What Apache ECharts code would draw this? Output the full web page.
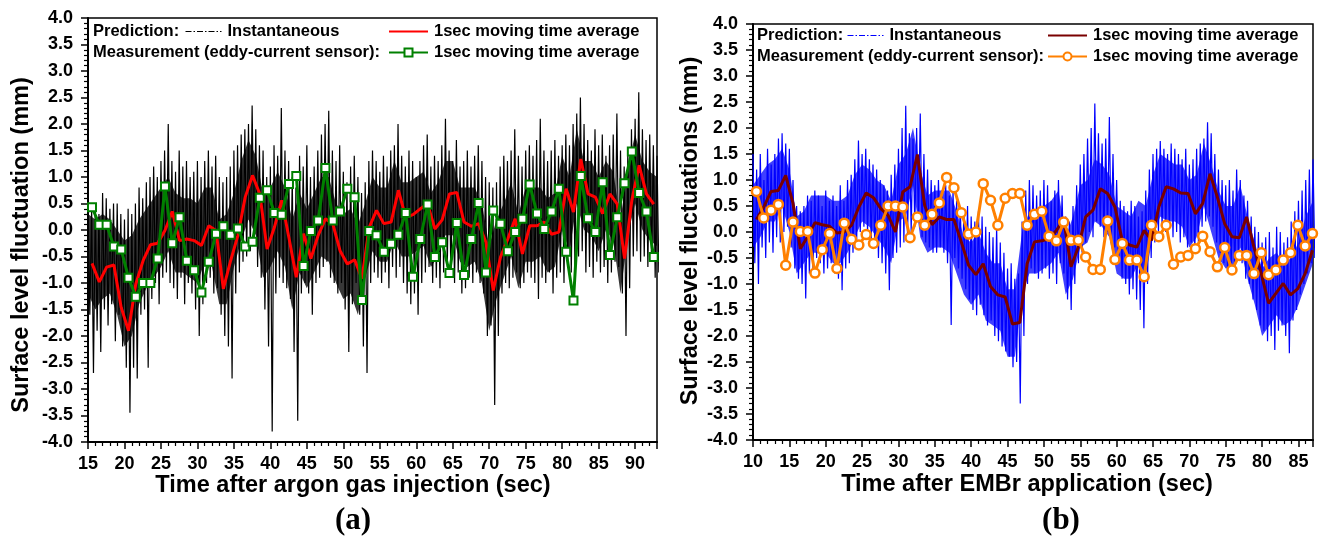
<!DOCTYPE html>
<html>
<head>
<meta charset="utf-8">
<script src="https://cdn.jsdelivr.net/npm/echarts@6/dist/echarts.min.js"></script>
<style>
html,body{margin:0;padding:0;background:#fff;}
#c{width:1324px;height:537px;}
</style>
</head>
<body>
<div id="c"></div>
<script>
// ---------- DATA ----------
// Panel (a): instantaneous prediction, spike excursions every 0.5 s from 15.0 s (upper / lower)
const aInstT0 = 15.0, aInstDt = 0.5;
const aInstHi = [
 0.6,0.4,0.5,0.3,0.7,0.6,0.4,0.5,0.5,0.3,
 0.2,0.4,0.3,0.5,0.8,0.6,0.9,1.0,1.2,1.0,
 1.3,1.5,2.0,1.3,1.1,1.5,1.2,1.3,1.0,1.1,
 1.3,1.0,1.3,1.5,1.2,1.4,1.0,0.9,1.0,1.2,
 1.5,1.6,1.8,1.9,2.0,2.35,1.9,1.6,1.5,1.0,
 1.2,1.6,1.4,2.3,1.5,1.3,1.0,0.8,1.4,1.2,
 1.6,1.0,1.2,1.5,1.8,2.0,2.25,1.5,1.3,1.6,
 1.1,0.9,1.2,1.4,1.0,0.7,0.9,1.3,1.5,1.3,
 1.1,1.4,1.2,1.5,1.6,2.0,1.4,1.2,1.5,1.3,
 1.0,1.3,1.6,1.8,1.2,1.4,1.3,1.6,2.1,1.5,
 1.3,1.7,1.2,1.3,1.5,1.2,1.4,1.6,1.3,1.0,
 0.9,0.8,0.9,1.2,1.4,1.3,1.5,1.9,1.4,1.2,
 1.5,1.6,1.4,1.7,2.1,1.5,1.3,1.5,1.7,1.4,
 1.6,1.8,1.6,2.0,2.2,2.5,2.0,1.7,1.5,1.9,
 1.6,1.8,1.4,1.6,1.8,2.2,1.5,1.2,1.5,1.9,
 2.1,2.6,1.9,1.7,1.8,1.6,1.4
];
const aInstLo = [
 -1.6,-2.7,-1.9,-2.3,-1.5,-1.8,-1.4,-2.1,-1.6,-2.2,
 -2.6,-3.45,-2.6,-2.8,-1.6,-1.5,-2.6,-1.3,-1.0,-1.4,
 -0.9,-0.8,-1.0,-1.1,-1.3,-0.9,-1.4,-1.0,-1.2,-1.5,
 -2.0,-1.4,-1.0,-0.9,-1.2,-1.1,-1.6,-2.0,-2.2,-2.8,
 -1.2,-0.8,-0.6,-0.5,-0.4,-0.3,-0.7,-0.9,-1.5,-2.2,
 -3.8,-1.2,-0.9,-1.0,-1.1,-1.3,-2.3,-3.6,-1.2,-1.0,
 -1.2,-1.6,-1.0,-0.9,-0.7,-0.6,-0.9,-1.0,-1.2,-1.0,
 -1.5,-2.3,-1.4,-1.0,-1.6,-2.2,-2.7,-1.0,-0.8,-0.9,
 -1.0,-0.8,-1.1,-0.7,-0.9,-0.7,-1.0,-1.2,-1.4,-1.2,
 -1.6,-1.0,-0.8,-0.7,-1.0,-0.9,-1.1,-0.8,-0.7,-0.9,
 -1.0,-0.8,-1.2,-1.1,-0.9,-1.0,-0.8,-1.0,-1.2,-2.0,
 -1.8,-3.3,-2.0,-1.2,-1.0,-1.1,-0.9,-0.8,-1.1,-1.0,
 -0.8,-0.9,-1.0,-1.3,-0.9,-1.0,-0.8,-1.2,-0.9,-0.8,
 -1.0,-0.6,-0.8,-0.7,-0.5,-0.4,-0.8,-0.7,-0.9,-0.6,
 -0.8,-0.7,-1.0,-0.8,-0.6,-0.7,-1.2,-2.0,-1.1,-0.5,
 -0.4,-0.6,-0.5,-0.7,-0.6,-0.9,-0.8
];
// Panel (a): dense core of the instantaneous trace, every 1 s from 15 s
const aCoreT0 = 15.0, aCoreDt = 1.0;
const aCoreHi = [
 0.3,0.2,0.3,0.2,0.0,-0.2,-0.1,0.2,0.4,0.6,
 0.8,1.0,0.7,0.6,0.6,0.5,0.8,0.8,0.2,0.3,
 0.7,1.3,1.7,1.4,0.7,0.8,1.1,0.8,0.2,0.7,
 0.4,0.7,1.0,1.0,0.5,0.3,0.4,0.1,0.5,1.0,
 0.8,0.8,1.3,0.9,0.9,1.0,1.1,0.7,0.9,1.3,
 1.3,0.8,0.8,0.8,0.5,-0.3,0.2,0.5,0.9,0.3,
 0.8,0.8,0.8,0.6,0.7,1.4,1.0,1.9,1.3,1.3,
 1.0,1.3,1.1,0.2,1.2,1.8,1.3,1.1,1.0
];
const aCoreLo = [
 -1.2,-1.5,-1.3,-1.2,-1.6,-2.2,-2.0,-1.4,-1.1,-0.9,
 -0.7,-0.4,-0.8,-0.8,-0.9,-1.0,-0.6,-0.7,-1.4,-1.4,
 -0.7,-0.2,0.2,-0.1,-0.9,-0.7,-0.4,-0.7,-1.5,-0.8,
 -1.1,-0.8,-0.5,-0.6,-1.0,-1.3,-1.2,-1.6,-0.9,-0.4,
 -0.6,-0.6,-0.2,-0.5,-0.5,-0.4,-0.3,-0.7,-0.5,-0.1,
 -0.1,-0.6,-0.7,-0.6,-1.0,-1.9,-1.3,-0.9,-0.5,-1.1,
 -0.6,-0.6,-0.5,-0.8,-0.7,0.0,-0.4,0.5,0.0,-0.1,
 -0.4,0.0,-0.2,-1.2,-0.1,0.5,0.0,-0.2,-0.3
];
// Panel (a): 1-sec moving averages, one value per second from 15.55 s
const aAvgT0 = 15.55, aAvgDt = 1.0;
const aPredAvg = [
 -0.63,-0.98,-0.70,-0.66,-1.46,-1.90,-1.02,-0.58,-0.28,-0.25,
 -0.01,0.35,-0.20,-0.17,-0.20,-0.29,0.08,-0.01,-1.11,-0.58,
 -0.10,0.62,1.03,0.68,-0.36,0.05,0.56,-0.15,-0.89,-0.07,
 -0.54,-0.10,0.21,0.12,-0.39,-0.64,-0.56,-0.92,0.05,0.37,
 0.12,0.15,0.75,0.24,0.29,0.40,0.49,0.02,0.19,0.68,
 0.71,0.15,0.07,0.12,-0.23,-1.14,-0.51,-0.17,0.21,-0.45,
 0.08,0.08,0.15,-0.08,-0.04,0.78,0.34,1.34,0.68,0.62,
 0.31,0.68,0.49,-0.54,0.56,1.22,0.68,0.49
];
const aMeasAvg = [
 0.43,0.10,0.10,-0.31,-0.37,-0.90,-1.26,-1.00,-1.00,-0.54,
 0.82,-0.25,0.24,-0.58,-0.76,-1.18,-0.60,-0.07,0.07,-0.09,
 0.03,-0.31,-0.22,0.61,0.75,0.32,0.29,0.87,1.02,-0.68,
 -0.02,0.18,1.17,0.18,0.35,0.78,0.62,-1.32,-0.02,-0.10,
 -0.41,-0.26,-0.09,0.32,-0.88,-0.17,0.48,-0.51,-0.23,-0.81,
 0.13,-0.85,-0.17,0.51,-0.80,0.37,0.12,-0.40,-0.04,0.21,
 0.86,0.31,0.02,0.35,0.78,-0.41,-1.33,1.02,0.22,-0.04,
 0.90,-0.47,0.24,0.88,1.48,0.70,0.35,-0.51
];

// Panel (b): instantaneous prediction spike excursions every 0.5 s from 10.0 s
const bInstT0 = 10.0, bInstDt = 0.5;
const bInstHi = [
 1.5,1.2,1.5,1.0,1.6,1.3,1.5,1.8,1.9,1.7,
 1.6,1.0,0.5,0.4,0.5,0.7,0.6,0.8,0.7,0.5,
 0.8,0.6,0.7,0.5,0.9,0.6,1.0,1.1,1.4,1.76,
 1.5,1.6,1.4,1.3,1.2,1.0,0.9,0.8,1.1,1.3,
 1.6,2.0,2.43,1.9,1.8,2.0,2.28,1.5,1.2,1.0,
 0.9,1.0,0.8,0.9,0.7,0.8,0.6,0.5,0.4,0.5,
 0.3,0.2,0.4,0.3,0.1,0.0,-0.1,0.1,-0.2,-0.4,
 -0.7,-0.6,-0.9,-0.8,0.2,0.8,1.0,0.9,0.7,0.8,
 1.0,0.9,0.6,0.8,1.0,0.7,0.3,0.2,0.5,0.9,
 1.3,1.5,1.8,2.0,2.47,1.9,1.7,1.8,2.21,1.5,
 1.0,0.6,0.5,0.4,0.6,0.5,0.3,0.4,0.8,1.2,
 1.5,1.6,1.75,1.6,1.5,1.7,1.6,1.5,1.4,1.6,
 1.3,1.4,1.6,1.7,1.8,2.11,1.9,1.5,1.2,1.0,
 0.9,1.0,0.8,1.2,1.0,0.7,0.6,0.3,0.1,0.0,
 -0.2,-0.1,0.0,-0.3,0.1,0.0,-0.2,-0.1,0.2,0.4,
 0.6,0.8,1.0,1.2,1.4
];
const bInstLo = [
 -0.6,-1.0,-0.3,-0.5,-0.2,-0.4,-0.1,-0.2,0.0,0.1,
 -0.3,-0.7,-0.9,-1.0,-1.28,-0.8,-0.7,-0.5,-0.6,-0.8,
 -0.7,-0.6,-0.8,-0.9,-1.12,-0.7,-0.6,-0.4,-0.2,0.0,
 0.1,0.0,-0.2,-0.3,-0.5,-0.6,-0.8,-1.12,-0.5,-0.4,
 -0.3,-0.2,-0.1,0.0,0.1,0.2,-0.1,-0.2,-0.3,-0.4,
 -0.4,-0.3,-0.4,-0.6,-1.79,-0.5,-0.7,-0.9,-1.1,-1.3,
 -1.5,-1.6,-1.4,-1.6,-1.8,-1.7,-2.0,-2.1,-2.2,-2.3,
 -2.4,-2.6,-2.5,-3.3,-2.0,-1.0,-0.7,-0.8,-0.9,-0.8,
 -0.7,-0.9,-0.8,-1.0,-0.6,-0.8,-1.3,-1.5,-1.0,-0.6,
 -0.4,-0.2,0.0,-0.1,0.2,0.1,-0.1,0.0,-0.2,-0.3,
 -0.6,-0.9,-1.0,-1.2,-1.1,-1.3,-1.5,-1.85,-1.0,-0.5,
 -0.2,0.0,0.1,0.0,0.1,-0.1,0.0,-0.2,-0.1,-0.3,
 -0.2,-0.4,-0.2,0.1,0.2,0.3,0.1,-0.2,-0.4,-0.6,
 -0.7,-0.6,-0.8,-0.5,-0.6,-0.9,-1.0,-1.3,-1.5,-1.8,
 -1.9,-2.1,-2.0,-2.27,-1.9,-1.8,-2.0,-2.33,-1.7,-1.5,
 -1.2,-1.0,-0.8,-0.6,-0.5
];
// Panel (b): dense core of the instantaneous trace, every 1 s from 10 s
const bCoreT0 = 10.0, bCoreDt = 1.0;
const bCoreHi = [
 0.9,1.1,1.3,1.4,1.6,1.2,0.3,0.4,0.7,0.7,
 0.7,0.6,0.6,0.7,1.1,1.3,1.2,1.0,0.9,0.6,
 1.3,1.5,2.0,1.2,0.7,0.8,0.8,0.8,0.4,-0.1,
 -0.2,0.0,-0.4,-0.6,-0.6,-1.1,-1.1,0.0,0.4,0.4,
 0.5,0.6,0.8,-0.1,0.3,0.9,1.0,1.4,1.3,1.1,
 0.5,0.4,0.3,0.6,0.5,1.1,1.5,1.4,1.3,1.3,
 1.0,1.1,1.7,1.3,0.8,0.5,0.5,0.9,0.3,-0.2,
 -0.7,-0.5,-0.4,-0.6,-0.5,-0.2,0.3,0.6
];
const bCoreLo = [
 -0.3,-0.1,0.2,0.2,0.5,0.0,-0.8,-0.6,-0.4,-0.4,
 -0.4,-0.6,-0.6,-0.4,-0.1,0.2,0.1,-0.1,-0.3,-0.6,
 0.2,0.3,0.9,-0.1,-0.4,-0.3,-0.3,-0.4,-0.8,-1.2,
 -1.4,-1.2,-1.7,-1.8,-1.9,-2.4,-2.4,-1.2,-0.8,-0.8,
 -0.7,-0.6,-0.4,-1.2,-0.9,-0.3,-0.2,0.2,0.1,-0.1,
 -0.8,-0.9,-0.9,-0.6,-0.8,-0.1,0.3,0.2,0.2,0.1,
 -0.3,-0.1,0.5,0.0,-0.5,-0.7,-0.7,-0.3,-0.9,-1.4,
 -2.0,-1.8,-1.6,-1.8,-1.7,-1.4,-1.0,-0.6
];
// Panel (b): 1-sec moving averages, one value per second from 10.47 s
const bAvgT0 = 10.47, bAvgDt = 1.006;
const bPredAvg = [
 0.24,0.48,0.78,0.80,1.09,0.55,-0.32,-0.09,0.18,0.14,
 0.11,-0.02,0.00,0.13,0.48,0.75,0.66,0.45,0.32,0.00,
 0.77,0.87,1.49,0.51,0.14,0.29,0.24,0.24,-0.19,-0.64,
 -0.82,-0.61,-1.05,-1.21,-1.25,-1.77,-1.74,-0.61,-0.19,-0.17,
 -0.13,0.03,0.23,-0.67,-0.29,0.29,0.42,0.83,0.74,0.48,
 -0.16,-0.25,-0.29,0.03,-0.16,0.48,0.87,0.83,0.75,0.74,
 0.35,0.55,1.12,0.67,0.16,-0.09,-0.11,0.29,-0.29,-0.80,
 -1.37,-1.18,-0.99,-1.21,-1.09,-0.80,-0.35
];
const bMeasAvg = [
 0.78,0.27,0.42,0.53,-0.64,0.19,0.01,0.01,-0.79,-0.34,
 -0.03,-0.70,0.17,-0.14,-0.25,-0.05,-0.22,0.13,0.50,0.50,
 0.48,-0.11,0.29,0.13,0.34,0.56,1.05,0.85,0.37,-0.04,
 0.00,0.93,0.61,0.13,0.65,0.74,0.74,0.13,0.34,0.40,
 -0.08,-0.17,0.19,-0.16,-0.16,-0.48,-0.72,-0.72,0.21,-0.53,
 -0.22,-0.54,-0.54,-0.86,0.13,-0.09,0.13,-0.62,-0.48,-0.45,
 -0.32,-0.08,-0.38,-0.67,-0.30,-0.73,-0.45,-0.45,-0.80,-0.40,
 -0.82,-0.73,-0.54,-0.40,0.13,-0.27,-0.03
];

// Axis settings
const aX = {min: 15, max: 93, interval: 5};
const bX = {min: 10, max: 87, interval: 5};
const yRange = {min: -4, max: 4, interval: 0.5};

// ---------- BUILD ----------
function series2(t0, dt, vals) { return vals.map((v, i) => [t0 + i * dt, v]); }
function envelope(t0, dt, hi, lo) {
  const d = [];
  for (let i = 0; i < hi.length; i++) {
    d.push([t0 + i * dt, hi[i]]);
    d.push([t0 + i * dt + dt / 2, lo[i]]);
  }
  return d;
}
// dense core drawn as one filled band through the axis scales
function coreBand(name, xi, t0, dt, hi, lo, color, opacity) {
  return {
    name: name, type: 'custom', xAxisIndex: xi, yAxisIndex: xi, silent: true, clip: true,
    encode: {x: 0, y: [1, 2]},
    data: hi.map((h, i) => [t0 + i * dt, h, lo[i]]),
    renderItem: function (params, api) {
      if (params.dataIndexInside !== 0) return null;
      const n = params.dataInsideLength;
      const top = [], bot = [];
      for (let i = 0; i < n; i++) {
        const t = api.value(0, i);
        top.push(api.coord([t, api.value(1, i)]));
        bot.push(api.coord([t, api.value(2, i)]));
      }
      const pts = top.concat(bot.reverse());
      const cs = params.coordSys;
      return {
        type: 'polygon', shape: {points: pts},
        style: {fill: color, opacity: opacity},
        clipPath: {type: 'rect', shape: {x: cs.x, y: cs.y, width: cs.width, height: cs.height}}
      };
    }
  };
}
const FONT = 'Liberation Sans, Arial, sans-serif';
function xAxis(idx, r) {
  return {
    type: 'value', gridIndex: idx, min: r.min, max: r.max, interval: r.interval,
    axisLine: {show: true, onZero: false, lineStyle: {color: '#000', width: 2}},
    axisTick: {show: true, inside: false, length: 7, lineStyle: {color: '#000', width: 1.5}},
    minorTick: {show: true, splitNumber: 5, length: 4, lineStyle: {color: '#000', width: 1.2}},
    splitLine: {show: false},
    axisLabel: {color: '#000', fontSize: 18, fontWeight: 'bold', fontFamily: FONT, margin: 13,
      showMaxLabel: false, formatter: v => (v % 5 === 0 ? String(v) : '')}
  };
}
function yAxis(idx) {
  return {
    type: 'value', gridIndex: idx, min: yRange.min, max: yRange.max, interval: yRange.interval,
    axisLine: {show: true, onZero: false, lineStyle: {color: '#000', width: 2}},
    axisTick: {show: true, inside: false, length: 7, lineStyle: {color: '#000', width: 1.5}},
    minorTick: {show: true, splitNumber: 5, length: 4, lineStyle: {color: '#000', width: 1.2}},
    splitLine: {show: false},
    axisLabel: {color: '#000', fontSize: 18, fontWeight: 'bold', fontFamily: FONT, margin: 15,
      formatter: v => v.toFixed(1)}
  };
}
const LEG_FONT = 16.5;
const legText = {color: '#000', fontSize: LEG_FONT, fontWeight: 'bold', fontFamily: FONT, padding: [0, 0, 0, 1]};
function legend(name, text, left, top, w, lineOnly, dashed) {
  const l = {data: [name], left: left, top: top, itemWidth: w, itemHeight: 10, itemGap: 0, padding: 0,
    selectedMode: false, formatter: () => text, textStyle: legText};
  if (lineOnly) l.itemStyle = {opacity: 0, borderWidth: 0};
  if (dashed) l.lineStyle = {type: [6, 2, 1.5, 2], width: 1};
  return l;
}

const option = {
  animation: false,
  backgroundColor: '#fff',
  grid: [
    {left: 88, top: 18, right: 667, bottom: 95, show: true, borderColor: '#000', borderWidth: 1.5, backgroundColor: 'transparent'},
    {left: 753, top: 24, right: 11, bottom: 97, show: true, borderColor: '#000', borderWidth: 1.5, backgroundColor: 'transparent'}
  ],
  xAxis: [xAxis(0, aX), xAxis(1, bX)],
  yAxis: [yAxis(0), yAxis(1)],
  legend: [
    legend('aInst', 'Instantaneous', 185, 23, 36, true, true),
    legend('aPred', '1sec moving time average', 388, 23, 39, true, false),
    legend('aMeas', '1sec moving time average', 388, 44, 39, false, false),
    legend('bInst', 'Instantaneous', 847, 27, 36, true, true),
    legend('bPred', '1sec moving time average', 1047, 27, 39, true, false),
    legend('bMeas', '1sec moving time average', 1047, 48, 39, false, false)
  ],
  series: [
    coreBand('aCore', 0, aCoreT0, aCoreDt, aCoreHi, aCoreLo, '#000', 0.78),
    {name: 'aInst', type: 'line', xAxisIndex: 0, yAxisIndex: 0, symbol: 'none', clip: true,
      data: envelope(aInstT0, aInstDt, aInstHi, aInstLo),
      lineStyle: {color: '#000', width: 1.2}, itemStyle: {color: '#000'}},
    {name: 'aPred', type: 'line', xAxisIndex: 0, yAxisIndex: 0, symbol: 'none', clip: true,
      data: series2(aAvgT0, aAvgDt, aPredAvg),
      lineStyle: {color: '#ff0000', width: 3}, itemStyle: {color: '#ff0000'}},
    {name: 'aMeas', type: 'line', xAxisIndex: 0, yAxisIndex: 0, symbol: 'rect', symbolSize: 8, clip: true,
      data: series2(aAvgT0, aAvgDt, aMeasAvg),
      lineStyle: {color: '#008000', width: 3},
      itemStyle: {color: '#ffffff', borderColor: '#008000', borderWidth: 2}},
    coreBand('bCore', 1, bCoreT0, bCoreDt, bCoreHi, bCoreLo, '#0000ff', 0.75),
    {name: 'bInst', type: 'line', xAxisIndex: 1, yAxisIndex: 1, symbol: 'none', clip: true,
      data: envelope(bInstT0, bInstDt, bInstHi, bInstLo),
      lineStyle: {color: '#0000ff', width: 1.2}, itemStyle: {color: '#0000ff'}},
    {name: 'bPred', type: 'line', xAxisIndex: 1, yAxisIndex: 1, symbol: 'none', clip: true,
      data: series2(bAvgT0, bAvgDt, bPredAvg),
      lineStyle: {color: '#7a0000', width: 3}, itemStyle: {color: '#7a0000'}},
    {name: 'bMeas', type: 'line', xAxisIndex: 1, yAxisIndex: 1, symbol: 'circle', symbolSize: 9, clip: true,
      data: series2(bAvgT0, bAvgDt, bMeasAvg),
      lineStyle: {color: '#ff8000', width: 3},
      itemStyle: {color: '#ffffff', borderColor: '#ff8000', borderWidth: 2.5}}
  ],
  graphic: [
    {type: 'text', left: 93, top: 23, style: {text: 'Prediction:', font: 'bold ' + LEG_FONT + 'px ' + FONT, fill: '#000'}},
    {type: 'text', left: 93, top: 44, style: {text: 'Measurement (eddy-current sensor):', font: 'bold ' + LEG_FONT + 'px ' + FONT, fill: '#000'}},
    {type: 'text', left: 757, top: 27, style: {text: 'Prediction:', font: 'bold ' + LEG_FONT + 'px ' + FONT, fill: '#000'}},
    {type: 'text', left: 757, top: 48, style: {text: 'Measurement (eddy-current sensor):', font: 'bold ' + LEG_FONT + 'px ' + FONT, fill: '#000'}},
    {type: 'text', x: 22, y: 245, rotation: Math.PI / 2,
      style: {text: 'Surface level fluctuation (mm)', font: 'bold 23.5px ' + FONT, fill: '#000', textAlign: 'center', textVerticalAlign: 'middle'}},
    {type: 'text', x: 691, y: 231, rotation: Math.PI / 2,
      style: {text: 'Surface level fluctuations (mm)', font: 'bold 23.5px ' + FONT, fill: '#000', textAlign: 'center', textVerticalAlign: 'middle'}},
    {type: 'text', x: 353, y: 486,
      style: {text: 'Time after argon gas injection (sec)', font: 'bold 23.5px ' + FONT, fill: '#000', textAlign: 'center', textVerticalAlign: 'middle'}},
    {type: 'text', x: 1027, y: 485,
      style: {text: 'Time after EMBr application (sec)', font: 'bold 23.5px ' + FONT, fill: '#000', textAlign: 'center', textVerticalAlign: 'middle'}},
    {type: 'text', x: 353, y: 521,
      style: {text: '(a)', font: 'bold 31px Liberation Serif, Times New Roman, serif', fill: '#000', textAlign: 'center', textVerticalAlign: 'middle'}},
    {type: 'text', x: 1061, y: 521,
      style: {text: '(b)', font: 'bold 31px Liberation Serif, Times New Roman, serif', fill: '#000', textAlign: 'center', textVerticalAlign: 'middle'}}
  ]
};
const chart = echarts.init(document.getElementById('c'), null, {renderer: 'canvas'});
chart.setOption(option);
</script>
</body>
</html>
